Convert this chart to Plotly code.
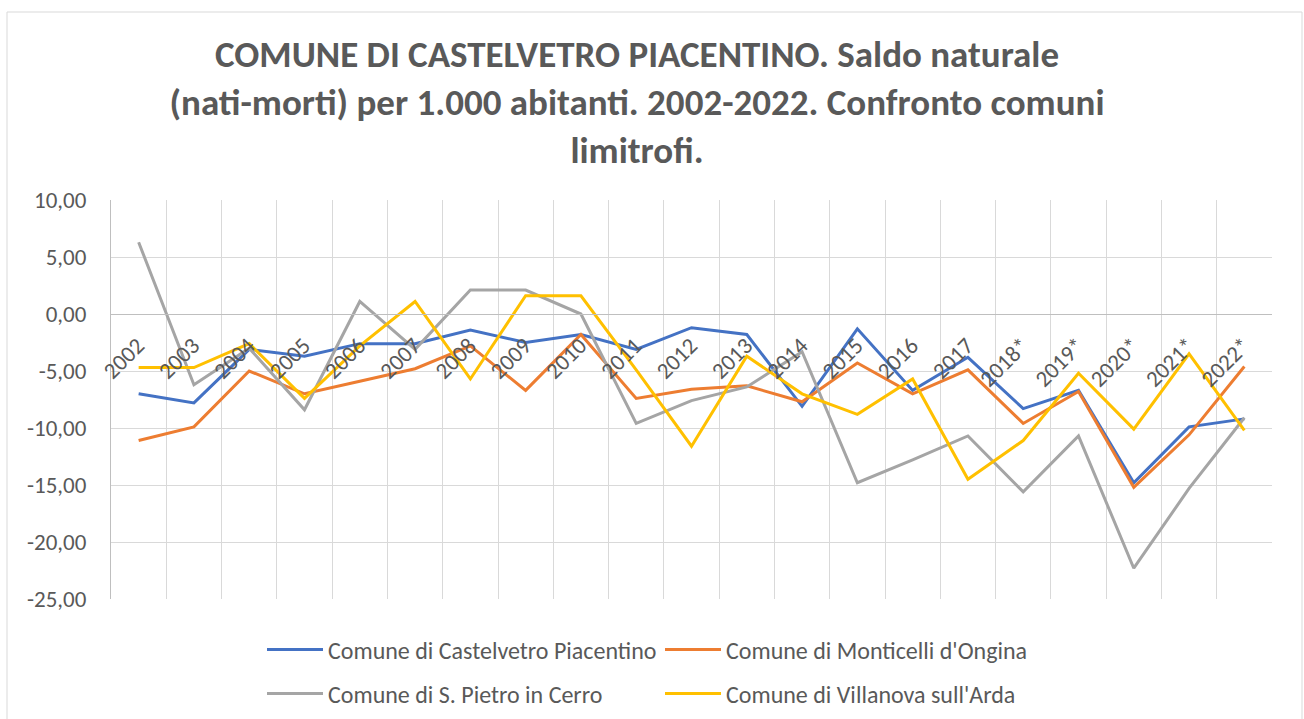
import plotly.graph_objects as go

years = ["2002", "2003", "2004", "2005", "2006", "2007", "2008", "2009", "2010", "2011",
         "2012", "2013", "2014", "2015", "2016", "2017", "2018*", "2019*", "2020*", "2021*", "2022*"]

castelvetro = [-7.0, -7.8, -3.1, -3.7, -2.6, -2.6, -1.4, -2.5, -1.8, -3.1, -1.2, -1.8,
               -8.1, -1.3, -6.7, -3.8, -8.3, -6.7, -14.8, -9.9, -9.2]
monticelli = [-11.1, -9.9, -5.0, -7.0, -5.9, -4.8, -2.8, -6.7, -1.8, -7.4, -6.6, -6.3,
              -7.7, -4.3, -7.0, -4.9, -9.6, -6.8, -15.2, -10.6, -4.6]
san_pietro = [6.3, -6.2, -3.0, -8.4, 1.1, -3.1, 2.1, 2.1, 0.0, -9.6, -7.6, -6.4,
              -3.3, -14.8, -12.8, -10.7, -15.6, -10.7, -22.3, -15.3, -9.1]
villanova = [-4.7, -4.7, -2.6, -7.4, -2.8, 1.1, -5.7, 1.6, 1.6, -4.9, -11.6, -3.7,
             -7.0, -8.8, -5.7, -14.5, -11.1, -5.2, -10.1, -3.5, -10.2]

series_names = ["Comune di Castelvetro Piacentino", "Comune di Monticelli d'Ongina",
                "Comune di S. Pietro in Cerro", "Comune di Villanova sull'Arda"]
series_values = [castelvetro, monticelli, san_pietro, villanova]
colors = ["#4472C4", "#ED7D31", "#A5A5A5", "#FFC000"]
legends = ["legend", "legend", "legend2", "legend2"]

y_tick_vals = [10, 5, 0, -5, -10, -15, -20, -25]
y_tick_text = ["10,00", "5,00", "0,00", "-5,00", "-10,00", "-15,00", "-20,00", "-25,00"]

title_text = ("COMUNE DI CASTELVETRO PIACENTINO. Saldo naturale<br>"
              "(nati-morti) per 1.000 abitanti. 2002-2022. Confronto comuni<br>"
              "limitrofi.")

FONT = "Calibri, Carlito, Lato, sans-serif"
TXT = "#595959"

fig = go.Figure()
for name, vals, col, lg in zip(series_names, series_values, colors, legends):
    fig.add_trace(go.Scatter(x=years, y=vals, mode="lines", name=name,
                             line=dict(color=col, width=3), legend=lg))

L, R, T, B = 111, 32, 200, 120
PW = 1304 - L - R
PH = 719 - T - B

def px_x(p):
    return (p - L) / PW

def px_y(p):
    return (719 - B - p) / PH

fig.update_layout(
    width=1304, height=719,
    margin=dict(l=L, r=R, t=T, b=B, autoexpand=False),
    paper_bgcolor="white", plot_bgcolor="white",
    font=dict(family=FONT, color=TXT, size=23),
    title=dict(text="<b>" + title_text + "</b>", x=637 / 1304, xref="container", xanchor="center",
               y=1 - 67 / 719, yref="container", yanchor="top",
               font=dict(family=FONT, size=37, color=TXT)),
    xaxis=dict(type="category", range=[-0.5, len(years) - 0.5], tickson="boundaries",
               showgrid=True, gridcolor="#D9D9D9",
               gridwidth=1, ticks="", tickangle=-45, anchor="free", position=25 / 35,
               showline=True, linecolor="#BFBFBF", linewidth=1,
               tickfont=dict(family=FONT, size=23, color=TXT), ticklabelstandoff=8,
               ticklabelshift=-1, zeroline=False),
    yaxis=dict(range=[-25, 10], tickvals=y_tick_vals, ticktext=y_tick_text, showgrid=True,
               gridcolor="#D9D9D9", gridwidth=1, zeroline=False, ticks="",
               showline=True, linecolor="#BFBFBF", linewidth=1,
               tickfont=dict(family=FONT, size=23, color=TXT), ticklabelstandoff=19),
    legend=dict(orientation="h", x=px_x(262), xanchor="left", y=px_y(650), yanchor="middle",
                font=dict(family=FONT, size=24, color=TXT), itemwidth=56,
                entrywidth=327, bgcolor="rgba(0,0,0,0)"),
    legend2=dict(orientation="h", x=px_x(262), xanchor="left", y=px_y(694), yanchor="middle",
                 font=dict(family=FONT, size=24, color=TXT), itemwidth=56,
                 entrywidth=327, bgcolor="rgba(0,0,0,0)"),
    shapes=[dict(type="rect", xref="paper", yref="paper",
                 x0=px_x(7), x1=px_x(1302), y0=px_y(730), y1=px_y(12),
                 line=dict(color="#D9D9D9", width=1), fillcolor="rgba(0,0,0,0)", layer="below")],
)

fig.write_html("out.html", post_script="document.body.style.margin='0';",
               config={"displayModeBar": False})
